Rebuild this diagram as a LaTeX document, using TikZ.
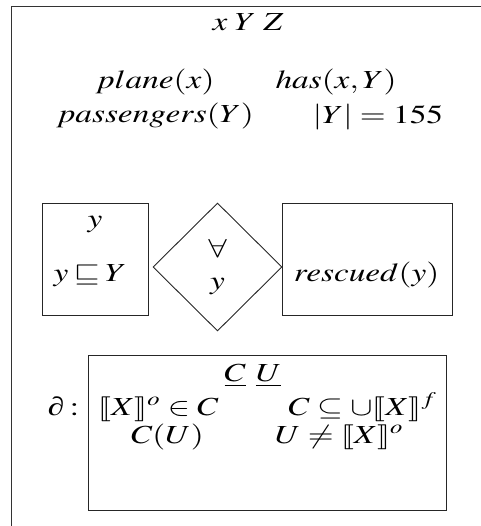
\documentclass[tikz,border=0pt]{standalone}
\usepackage{mathptmx}
\usepackage{amssymb}
\usepackage{stmaryrd}
\usepackage{graphicx}
\usepackage[no-math]{fontspec}
\newfontfamily\libserif{Liberation Serif}
\newcommand{\widetxt}[1]{\scalebox{1.28}[1]{#1}}
\usetikzlibrary{shapes.geometric}
\tikzset{
  lbl/.style={font=\fontsize{26}{31}\selectfont, inner sep=0pt, anchor=base},
  boxnode/.style={draw=black!85, line width=0.9pt, inner sep=0pt, rectangle},
  framepath/.style={draw=black!80, line width=0.9pt},
}
\begin{document}
\begin{tikzpicture}[x=1pt,y=1pt]
\useasboundingbox (0,0) rectangle (480,-526);
% outer frame (partly outside the page)
\draw[framepath] (11,-530) -- (11,-6) -- (484,-6);
% header texts
\node[lbl] (xyz) at (248,-31) {\widetxt{$x\;Y\;Z$}};
\node[lbl] (plane) at (155,-89) {\widetxt{$plane(x)$}};
\node[lbl] (has) at (336,-89) {\widetxt{$has(x,Y)$}};
\node[lbl] (pass) at (155,-123) {\widetxt{$passengers(Y)$}};
\node[lbl] (card) at (378,-124) {\widetxt{$|Y| = 155$}};
% middle row
\node[boxnode, minimum width=106pt, minimum height=112pt] (lbox) at (95,-259) {};
\node[lbl] (ly) at (95,-228) {\widetxt{$y$}};
\node[lbl] (lrel) at (90,-281) {\widetxt{$y\mskip3mu{\sqsubseteq}\mskip3mu Y$}};
\node[boxnode, shape=diamond, minimum width=129pt, minimum height=128pt] (dia) at (217.5,-267) {};
\node[lbl] (all) at (217.5,-257) {\widetxt{$\forall$}};
\node[lbl] (dy) at (217.5,-289) {\widetxt{$y$}};
\node[boxnode, minimum width=170pt, minimum height=112pt] (rbox) at (367,-259) {};
\node[lbl] (resc) at (366.5,-281) {\widetxt{$rescued(y)$}};
% bottom
\node[lbl] (part) at (63.5,-415) {\widetxt{{\libserif ∂}\,$:$}};
\node[boxnode, minimum width=358pt, minimum height=155pt] (bbox) at (267,-432.5) {};
\node[lbl] (cu) at (253,-381) {\widetxt{$\underline{C}\ \underline{U}$}};
\node[lbl] (r1a) at (158.5,-415) {\widetxt{$\llbracket X\rrbracket^o \in C$}};
\node[lbl] (r1b) at (362.5,-415) {\widetxt{$C \subseteq \cup\llbracket X\rrbracket^f$}};
\node[lbl] (r2a) at (167.5,-443) {\widetxt{$C(U)$}};
\node[lbl] (r2b) at (339,-443) {\widetxt{$U \neq \llbracket X\rrbracket^o$}};
\end{tikzpicture}
\end{document}
